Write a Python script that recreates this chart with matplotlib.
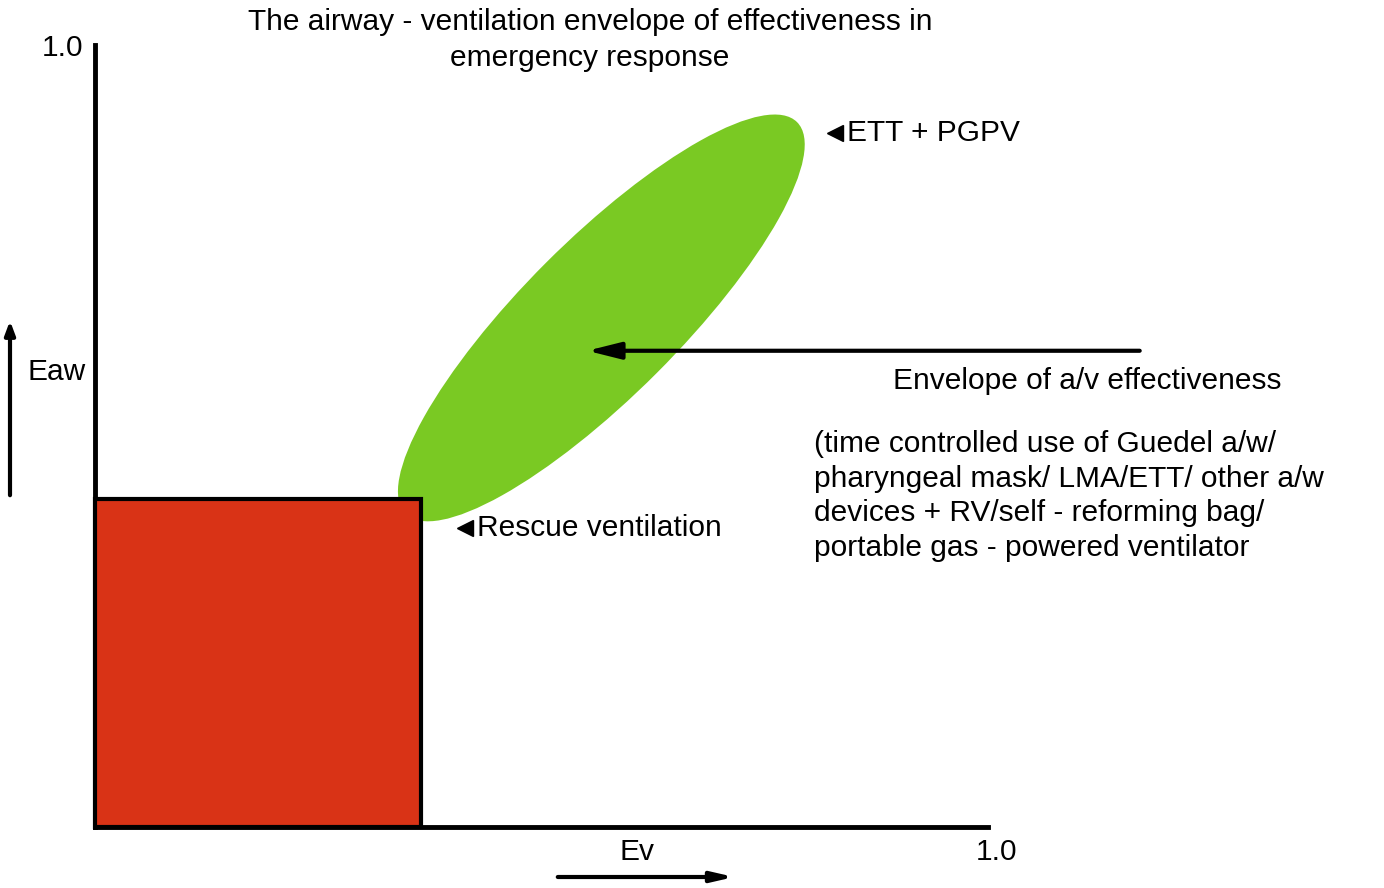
import matplotlib.pyplot as plt
from matplotlib.patches import Rectangle, Ellipse

plt.rcParams['font.family'] = 'Liberation Sans'

# diagram values (fractions of axis length, 0..1)
rescue_box = [0.0, 0.0, 0.365, 0.42]      # x0, y0, x1, y1
envelope_center = [0.567, 0.651]
envelope_size = [0.62, 0.175]              # length, width
envelope_angle = 45
etty_label_pos = [0.82, 0.888]
rescue_label_pos = [0.405, 0.382]
pointer_start = [1.173, 0.609]
pointer_end = [0.548, 0.609]

# pixel frame of the axes
X0, X1, Y0, Y1 = 95, 988, 827, 45


def px(v):
    return X0 + v * (X1 - X0)


def py(v):
    return Y0 - v * (Y0 - Y1)


fig = plt.figure(figsize=(13.84, 8.88), dpi=100)
ax = fig.add_axes([0, 0, 1, 1])
ax.set_xlim(0, 1384)
ax.set_ylim(888, 0)
ax.axis('off')

# axes lines
ax.plot([px(0), px(0)], [py(1.0), py(0)], color='black', lw=3.5)
ax.plot([px(0), px(1.0)], [py(0), py(0)], color='black', lw=3.5)

x0, y0, x1, y1 = rescue_box
ax.add_patch(Rectangle((px(x0), py(y1)), px(x1) - px(x0), py(y0) - py(y1),
                       facecolor='#d93316', edgecolor='black', lw=3, zorder=2))

w = envelope_size[0] * (X1 - X0)
h = envelope_size[1] * (X1 - X0)
ax.add_patch(Ellipse((px(envelope_center[0]), py(envelope_center[1])), w, h,
                     angle=-envelope_angle, facecolor='#7ac923', edgecolor='none', zorder=1))

ax.annotate('', xy=(px(pointer_end[0]), py(pointer_end[1])),
            xytext=(px(pointer_start[0]), py(pointer_start[1])),
            arrowprops=dict(arrowstyle='-|>,head_length=2.0,head_width=0.5',
                            color='black', lw=3), zorder=5)

# axis direction arrows
ax.annotate('', xy=(10, 318), xytext=(10, 498),
            arrowprops=dict(arrowstyle='-|>,head_length=0.8,head_width=0.3', color='black', lw=3))
ax.annotate('', xy=(737, 877), xytext=(555, 877),
            arrowprops=dict(arrowstyle='-|>,head_length=1.3,head_width=0.3', color='black', lw=3))

fs = 21.5
ax.text(590, 40, 'The airway - ventilation envelope of effectiveness in\nemergency response',
        ha='center', va='center', fontsize=fs, linespacing=1.4)
ax.text(62, 48, '1.0', ha='center', va='center', fontsize=fs)
ax.text(996, 852, '1.0', ha='center', va='center', fontsize=fs)
ax.text(57, 372, 'Eaw', ha='center', va='center', fontsize=fs)
ax.text(637, 852, 'Ev', ha='center', va='center', fontsize=fs)

for pos, label in [(etty_label_pos, 'ETT + PGPV'), (rescue_label_pos, 'Rescue ventilation')]:
    ax.plot(px(pos[0]) + 8, py(pos[1]), marker='<', color='black', markersize=11)
    ax.text(px(pos[0]) + 20, py(pos[1]), label, ha='left', va='center', fontsize=fs)

ax.text(893, 381, 'Envelope of a/v effectiveness', ha='left', va='center', fontsize=fs)
ax.text(814, 496, '(time controlled use of Guedel a/w/\npharyngeal mask/ LMA/ETT/ other a/w\n'
        'devices + RV/self - reforming bag/\nportable gas - powered ventilator',
        ha='left', va='center', fontsize=fs, linespacing=1.3)

fig.savefig('out.png', dpi=100)
